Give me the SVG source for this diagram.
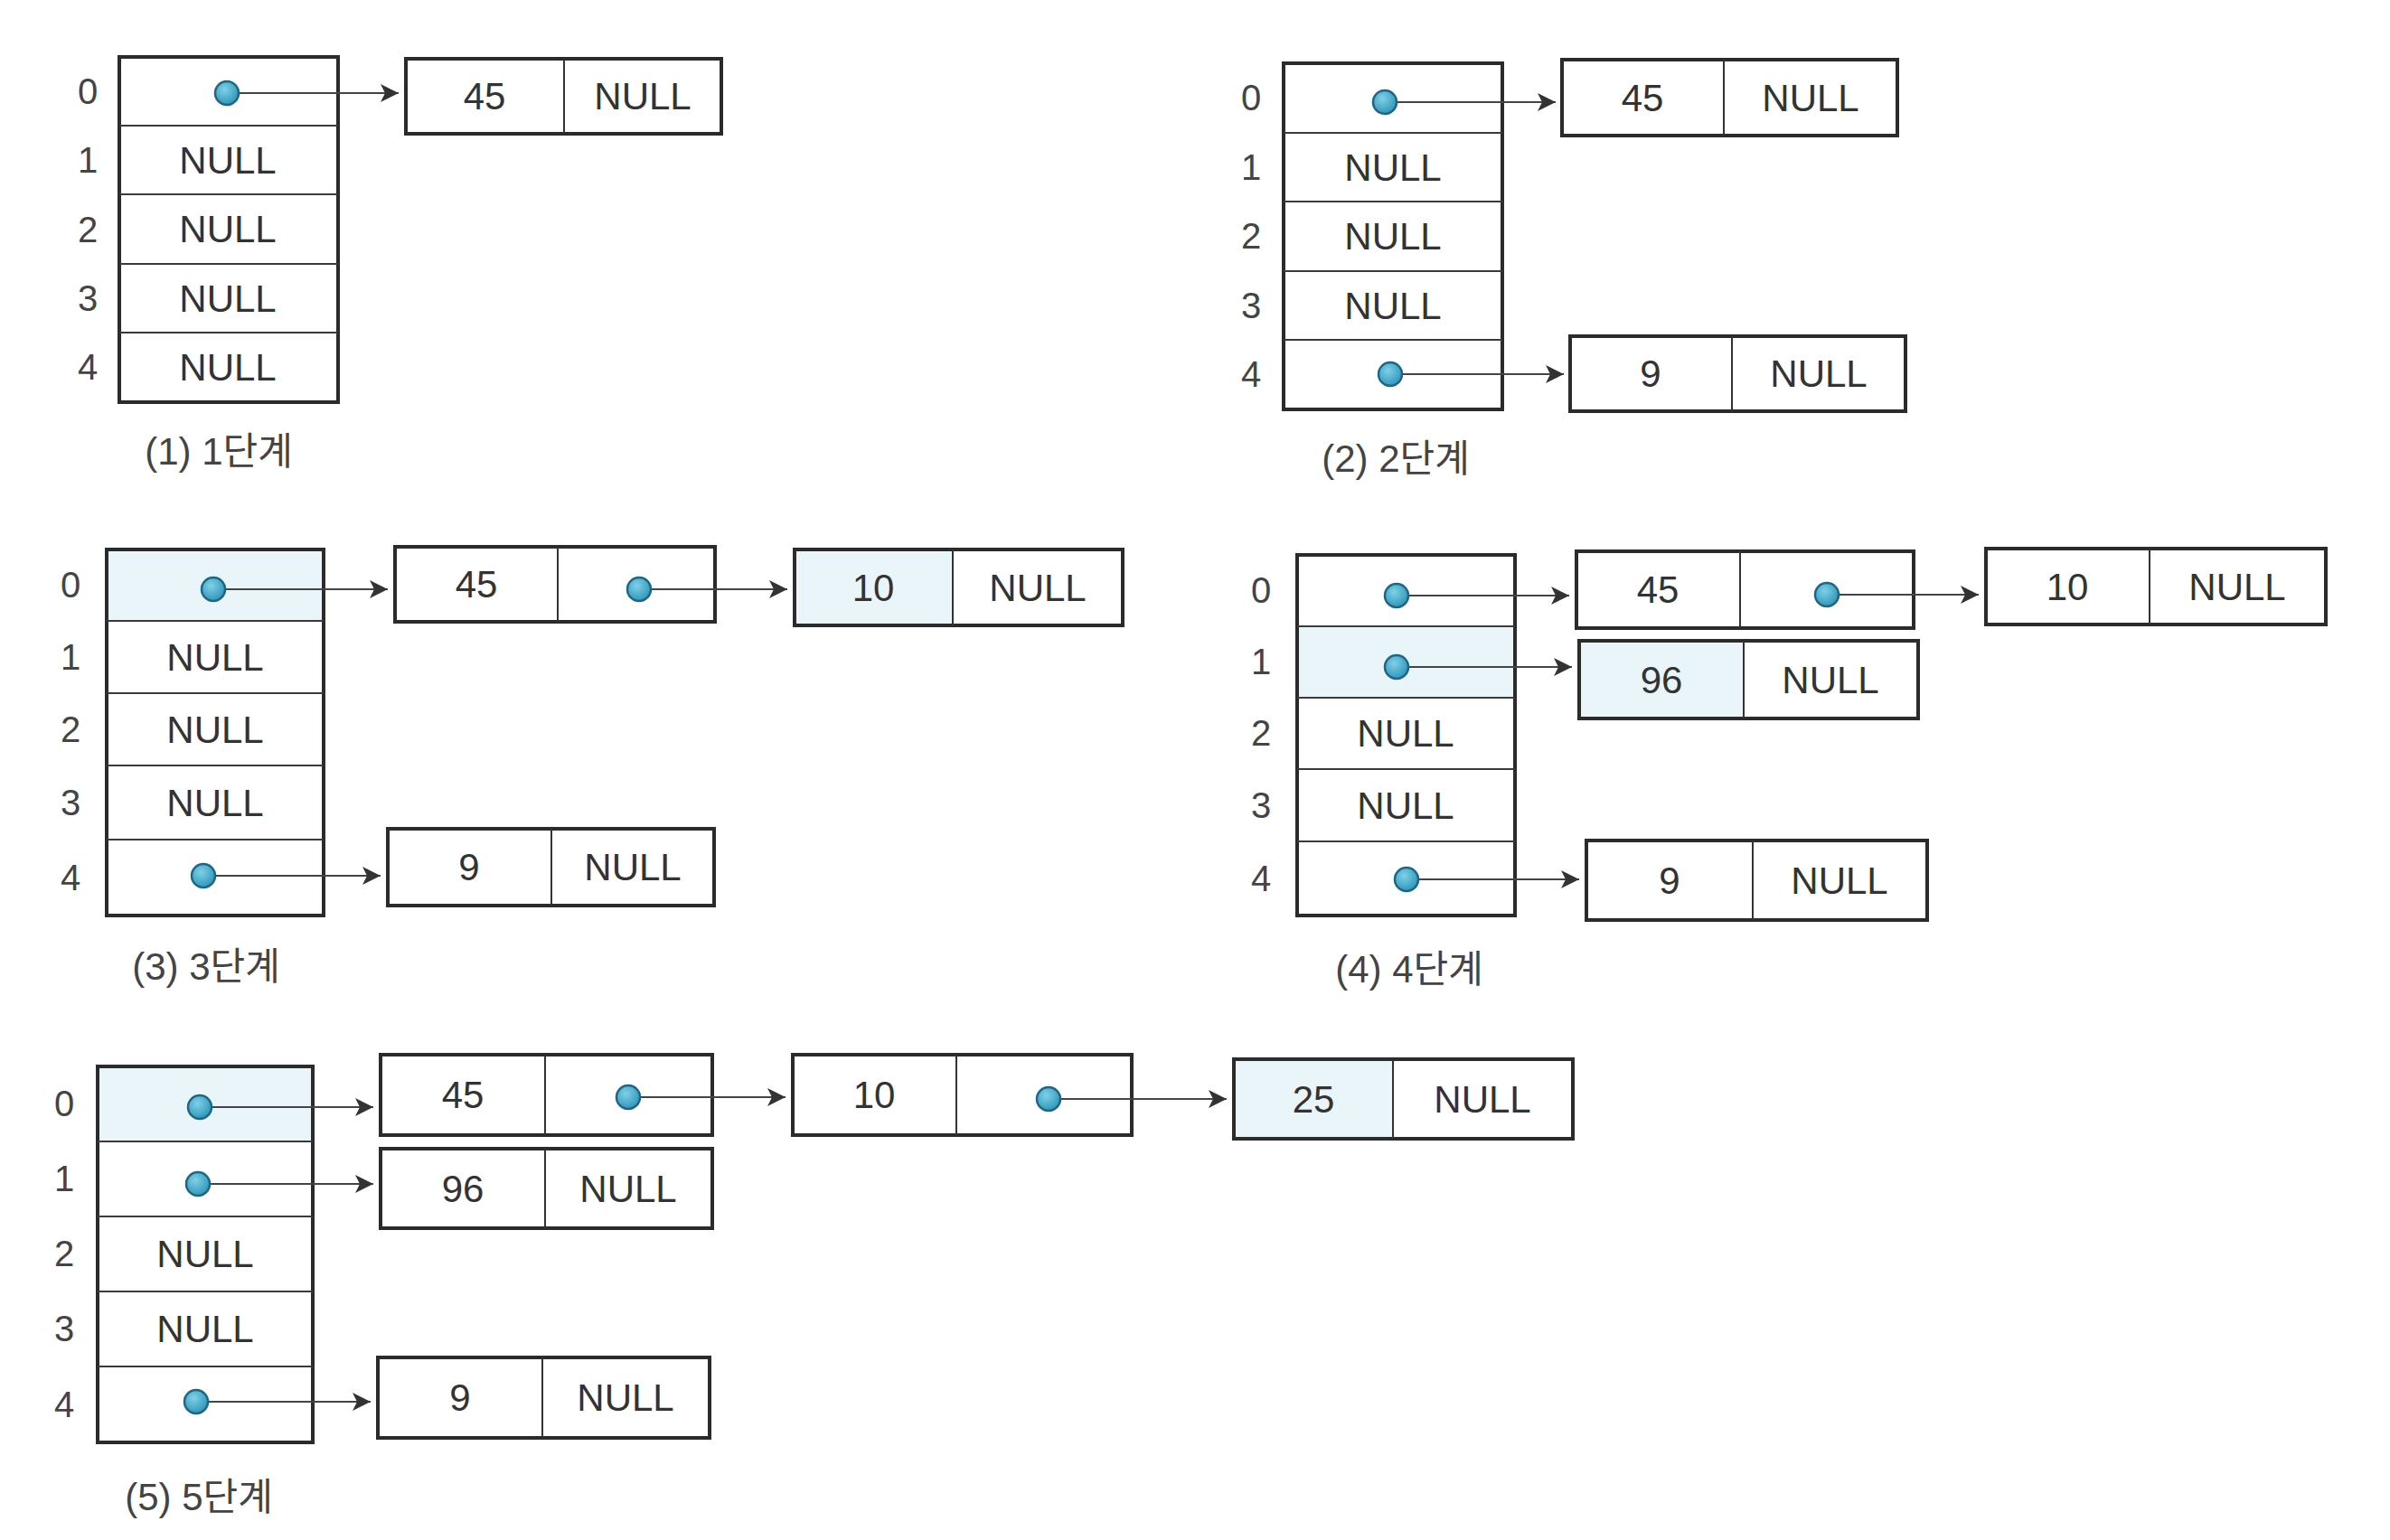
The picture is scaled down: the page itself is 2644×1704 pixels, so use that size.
<svg xmlns="http://www.w3.org/2000/svg" width="2644" height="1704" viewBox="0 0 2644 1704">
<defs>
<style>
.bg{fill:#ffffff}
.tbl{fill:none;stroke:#2b2b2b;stroke-width:4}
.row{stroke:#3a3a3a;stroke-width:2}
.box{fill:none;stroke:#2b2b2b;stroke-width:4}
.div{stroke:#333;stroke-width:2}
.hl{fill:#eaf5fa}
.t{font-family:"Liberation Sans","Noto Sans",sans-serif;font-size:42px;fill:#333;text-anchor:middle}
.ix{font-family:"Liberation Sans","Noto Sans",sans-serif;font-size:40px;fill:#444;text-anchor:middle}
.cap{font-family:"Liberation Sans","Noto Sans CJK KR",sans-serif;font-size:42px;fill:#444;text-anchor:middle}
.ln{stroke:#444;stroke-width:2.2;fill:none;marker-end:url(#ah)}
.dot{fill:url(#dg);stroke:#1e6685;stroke-width:2.5}
</style>
<marker id="ah" markerUnits="userSpaceOnUse" markerWidth="22" markerHeight="22" refX="20" refY="10" orient="auto" viewBox="0 0 22 22">
<path d="M0,0 L20,10 L0,20 L5,10 z" fill="#333"/>
</marker>
<radialGradient id="dg" cx="0.4" cy="0.35" r="0.7">
<stop offset="0" stop-color="#7fd0e6"/>
<stop offset="1" stop-color="#2a93b8"/>
</radialGradient>
</defs>
<rect class="bg" x="0" y="0" width="2644" height="1704"/>

<!-- Panel 1 -->
<g id="panel1">
<g id="p1-table">
<rect class="tbl" x="132" y="63" width="242" height="382"/>
<line class="row" x1="132" y1="139" x2="374" y2="139"/>
<line class="row" x1="132" y1="215" x2="374" y2="215"/>
<line class="row" x1="132" y1="292" x2="374" y2="292"/>
<line class="row" x1="132" y1="368" x2="374" y2="368"/>
<text class="ix" x="97" y="115">0</text>
<text class="ix" x="97" y="191">1</text>
<text class="ix" x="97" y="268">2</text>
<text class="ix" x="97" y="344">3</text>
<text class="ix" x="97" y="420">4</text>
<text class="t" x="252" y="192">NULL</text>
<text class="t" x="252" y="268">NULL</text>
<text class="t" x="252" y="345">NULL</text>
<text class="t" x="252" y="421">NULL</text>
</g>
<g id="p1-n45">
<rect class="box" x="449" y="65" width="349" height="83"/>
<line class="div" x1="624" y1="65" x2="624" y2="148"/>
<text class="t" x="536" y="121">45</text>
<text class="t" x="711" y="121">NULL</text>
</g>
<text class="cap" x="242" y="514">(1) 1단계</text>
</g>

<!-- Panel 2 -->
<g id="panel2">
<g id="p2-table">
<rect class="tbl" x="1420" y="70" width="242" height="383"/>
<line class="row" x1="1420" y1="147" x2="1662" y2="147"/>
<line class="row" x1="1420" y1="223" x2="1662" y2="223"/>
<line class="row" x1="1420" y1="300" x2="1662" y2="300"/>
<line class="row" x1="1420" y1="376" x2="1662" y2="376"/>
<text class="ix" x="1384" y="122">0</text>
<text class="ix" x="1384" y="199">1</text>
<text class="ix" x="1384" y="275">2</text>
<text class="ix" x="1384" y="352">3</text>
<text class="ix" x="1384" y="428">4</text>
<text class="t" x="1541" y="200">NULL</text>
<text class="t" x="1541" y="276">NULL</text>
<text class="t" x="1541" y="353">NULL</text>
</g>
<g id="p2-n45">
<rect class="box" x="1728" y="66" width="371" height="84"/>
<line class="div" x1="1907" y1="66" x2="1907" y2="150"/>
<text class="t" x="1817" y="123">45</text>
<text class="t" x="2003" y="123">NULL</text>
</g>
<g id="p2-n9">
<rect class="box" x="1737" y="372" width="371" height="83"/>
<line class="div" x1="1916" y1="372" x2="1916" y2="455"/>
<text class="t" x="1826" y="428">9</text>
<text class="t" x="2012" y="428">NULL</text>
</g>
<text class="cap" x="1544" y="522">(2) 2단계</text>
</g>

<!-- Panel 3 -->
<g id="panel3">
<g id="p3-table">
<rect class="hl" x="118" y="608" width="240" height="79"/>
<rect class="tbl" x="118" y="608" width="240" height="405"/>
<line class="row" x1="118" y1="687" x2="358" y2="687"/>
<line class="row" x1="118" y1="767" x2="358" y2="767"/>
<line class="row" x1="118" y1="847" x2="358" y2="847"/>
<line class="row" x1="118" y1="929" x2="358" y2="929"/>
<text class="ix" x="78" y="661">0</text>
<text class="ix" x="78" y="741">1</text>
<text class="ix" x="78" y="821">2</text>
<text class="ix" x="78" y="902">3</text>
<text class="ix" x="78" y="985">4</text>
<text class="t" x="238" y="742">NULL</text>
<text class="t" x="238" y="822">NULL</text>
<text class="t" x="238" y="903">NULL</text>
</g>
<g id="p3-n45">
<rect class="box" x="437" y="605" width="354" height="83"/>
<line class="div" x1="617" y1="605" x2="617" y2="688"/>
<text class="t" x="527" y="661">45</text>
</g>
<g id="p3-n10">
<rect class="hl" x="879" y="608" width="175" height="84"/>
<rect class="box" x="879" y="608" width="363" height="84"/>
<line class="div" x1="1054" y1="608" x2="1054" y2="692"/>
<text class="t" x="966" y="665">10</text>
<text class="t" x="1148" y="665">NULL</text>
</g>
<g id="p3-n9">
<rect class="box" x="429" y="917" width="361" height="85"/>
<line class="div" x1="610" y1="917" x2="610" y2="1002"/>
<text class="t" x="519" y="974">9</text>
<text class="t" x="700" y="974">NULL</text>
</g>
<text class="cap" x="228" y="1084">(3) 3단계</text>
</g>

<!-- Panel 4 -->
<g id="panel4">
<g id="p4-table">
<rect class="hl" x="1435" y="693" width="241" height="79"/>
<rect class="tbl" x="1435" y="614" width="241" height="399"/>
<line class="row" x1="1435" y1="693" x2="1676" y2="693"/>
<line class="row" x1="1435" y1="772" x2="1676" y2="772"/>
<line class="row" x1="1435" y1="851" x2="1676" y2="851"/>
<line class="row" x1="1435" y1="931" x2="1676" y2="931"/>
<text class="ix" x="1395" y="667">0</text>
<text class="ix" x="1395" y="746">1</text>
<text class="ix" x="1395" y="825">2</text>
<text class="ix" x="1395" y="905">3</text>
<text class="ix" x="1395" y="986">4</text>
<text class="t" x="1555" y="826">NULL</text>
<text class="t" x="1555" y="906">NULL</text>
</g>
<g id="p4-n45">
<rect class="box" x="1744" y="610" width="373" height="85"/>
<line class="div" x1="1925" y1="610" x2="1925" y2="695"/>
<text class="t" x="1834" y="667">45</text>
</g>
<g id="p4-n10">
<rect class="box" x="2197" y="607" width="376" height="84"/>
<line class="div" x1="2378" y1="607" x2="2378" y2="691"/>
<text class="t" x="2287" y="664">10</text>
<text class="t" x="2475" y="664">NULL</text>
</g>
<g id="p4-n96">
<rect class="hl" x="1747" y="709" width="182" height="86"/>
<rect class="box" x="1747" y="709" width="375" height="86"/>
<line class="div" x1="1929" y1="709" x2="1929" y2="795"/>
<text class="t" x="1838" y="767">96</text>
<text class="t" x="2025" y="767">NULL</text>
</g>
<g id="p4-n9">
<rect class="box" x="1755" y="930" width="377" height="88"/>
<line class="div" x1="1939" y1="930" x2="1939" y2="1018"/>
<text class="t" x="1847" y="989">9</text>
<text class="t" x="2035" y="989">NULL</text>
</g>
<text class="cap" x="1559" y="1087">(4) 4단계</text>
</g>

<!-- Panel 5 -->
<g id="panel5">
<g id="p5-table">
<rect class="hl" x="108" y="1180" width="238" height="83"/>
<rect class="tbl" x="108" y="1180" width="238" height="416"/>
<line class="row" x1="108" y1="1263" x2="346" y2="1263"/>
<line class="row" x1="108" y1="1346" x2="346" y2="1346"/>
<line class="row" x1="108" y1="1429" x2="346" y2="1429"/>
<line class="row" x1="108" y1="1512" x2="346" y2="1512"/>
<text class="ix" x="71" y="1235">0</text>
<text class="ix" x="71" y="1318">1</text>
<text class="ix" x="71" y="1401">2</text>
<text class="ix" x="71" y="1484">3</text>
<text class="ix" x="71" y="1568">4</text>
<text class="t" x="227" y="1402">NULL</text>
<text class="t" x="227" y="1485">NULL</text>
</g>
<g id="p5-n45">
<rect class="box" x="421" y="1167" width="367" height="89"/>
<line class="div" x1="603" y1="1167" x2="603" y2="1256"/>
<text class="t" x="512" y="1226">45</text>
</g>
<g id="p5-n10">
<rect class="box" x="877" y="1167" width="375" height="89"/>
<line class="div" x1="1058" y1="1167" x2="1058" y2="1256"/>
<text class="t" x="967" y="1226">10</text>
</g>
<g id="p5-n25">
<rect class="hl" x="1365" y="1172" width="176" height="88"/>
<rect class="box" x="1365" y="1172" width="375" height="88"/>
<line class="div" x1="1541" y1="1172" x2="1541" y2="1260"/>
<text class="t" x="1453" y="1231">25</text>
<text class="t" x="1640" y="1231">NULL</text>
</g>
<g id="p5-n96">
<rect class="box" x="421" y="1271" width="367" height="88"/>
<line class="div" x1="603" y1="1271" x2="603" y2="1359"/>
<text class="t" x="512" y="1330">96</text>
<text class="t" x="695" y="1330">NULL</text>
</g>
<g id="p5-n9">
<rect class="box" x="418" y="1502" width="367" height="89"/>
<line class="div" x1="600" y1="1502" x2="600" y2="1591"/>
<text class="t" x="509" y="1561">9</text>
<text class="t" x="692" y="1561">NULL</text>
</g>
<text class="cap" x="220" y="1671">(5) 5단계</text>
</g>

<!-- Connectors -->
<g id="connectors">
<line class="ln" x1="251" y1="103" x2="441" y2="103"/>
<line class="ln" x1="1532" y1="113" x2="1721" y2="113"/>
<line class="ln" x1="1538" y1="414" x2="1730" y2="414"/>
<line class="ln" x1="236" y1="652" x2="429" y2="652"/>
<line class="ln" x1="707" y1="652" x2="871" y2="652"/>
<line class="ln" x1="225" y1="969" x2="421" y2="969"/>
<line class="ln" x1="1545" y1="659" x2="1736" y2="659"/>
<line class="ln" x1="2021" y1="658" x2="2189" y2="658"/>
<line class="ln" x1="1545" y1="738" x2="1739" y2="738"/>
<line class="ln" x1="1556" y1="973" x2="1747" y2="973"/>
<line class="ln" x1="221" y1="1225" x2="413" y2="1225"/>
<line class="ln" x1="695" y1="1214" x2="869" y2="1214"/>
<line class="ln" x1="1160" y1="1216" x2="1357" y2="1216"/>
<line class="ln" x1="219" y1="1310" x2="413" y2="1310"/>
<line class="ln" x1="217" y1="1551" x2="410" y2="1551"/>
<circle class="dot" cx="251" cy="103" r="13"/>
<circle class="dot" cx="1532" cy="113" r="13"/>
<circle class="dot" cx="1538" cy="414" r="13"/>
<circle class="dot" cx="236" cy="652" r="13"/>
<circle class="dot" cx="707" cy="652" r="13"/>
<circle class="dot" cx="225" cy="969" r="13"/>
<circle class="dot" cx="1545" cy="659" r="13"/>
<circle class="dot" cx="2021" cy="658" r="13"/>
<circle class="dot" cx="1545" cy="738" r="13"/>
<circle class="dot" cx="1556" cy="973" r="13"/>
<circle class="dot" cx="221" cy="1225" r="13"/>
<circle class="dot" cx="695" cy="1214" r="13"/>
<circle class="dot" cx="1160" cy="1216" r="13"/>
<circle class="dot" cx="219" cy="1310" r="13"/>
<circle class="dot" cx="217" cy="1551" r="13"/>
</g>
</svg>
